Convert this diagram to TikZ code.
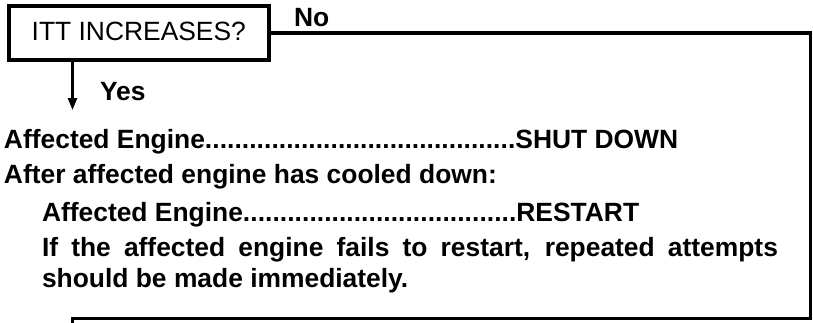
\documentclass[tikz,border=0pt]{standalone}
\usepackage{fontspec}
\setmainfont{Liberation Sans}
\usetikzlibrary{arrows.meta}
\begin{document}
\begin{tikzpicture}[x=1pt,y=-1pt,
  txt/.style={anchor=base west, inner sep=0pt, outer sep=0pt, font=\bfseries\fontsize{26.4}{30}\selectfont},
  qbox/.style={draw, line width=4pt, rectangle, minimum width=260.3pt, minimum height=54pt, inner sep=0pt, outer sep=0pt, text height=18.9pt, text depth=3.7pt, font=\fontsize{26.4}{30}\selectfont},
  conn/.style={line width=3.3pt},
  arr/.style={line width=2.5pt, -{Triangle[length=12pt,width=9pt]}}]
\useasboundingbox (0,0) rectangle (813,322);
\node[qbox] (q) at (138.8,33) {ITT INCREASES?};
\node[txt] (no) at (294,26.5) {No};
\node[txt] (yes) at (100,100) {Yes};
\coordinate (br) at (810.5,318.5);
\coordinate (bl) at (72.5,318.5);
\coordinate (bo) at (72.5,326);
\draw[conn] (q.east) -| (br) -- (bl) -- (bo);
\coordinate (yt) at (72.5,110);
\draw[arr] (q.south -| yt) -- (yt);
\node[txt] (l1) at (4,148) {\hbox to 674pt{Affected Engine\xleaders\hbox{.}\hfill SHUT DOWN}};
\node[txt] (l2) at (4,183) {After affected engine has cooled down:};
\node[txt] (l3) at (42,221) {\hbox to 597pt{Affected Engine\xleaders\hbox{.}\hfill RESTART}};
\node[txt] (l4) at (42,256) {\hbox to 736pt{If the affected engine fails to restart, repeated attempts}};
\node[txt] (l5) at (42,287) {should be made immediately.};
\end{tikzpicture}
\end{document}
